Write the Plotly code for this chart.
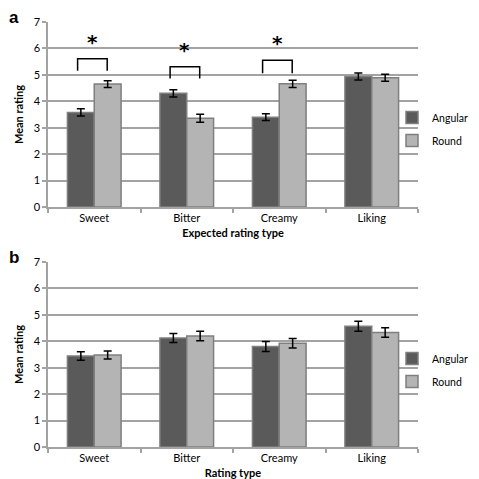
import plotly.graph_objects as go
from plotly.subplots import make_subplots

categories = ["Sweet", "Bitter", "Creamy", "Liking"]
series_names = ["Angular", "Round"]

# Panel a: expected ratings
a_angular = [3.58, 4.30, 3.40, 4.94]
a_round = [4.65, 3.36, 4.66, 4.89]
a_angular_err = [0.14, 0.14, 0.13, 0.13]
a_round_err = [0.13, 0.15, 0.14, 0.13]

# Panel b: actual ratings
b_angular = [3.44, 4.12, 3.80, 4.57]
b_round = [3.48, 4.20, 3.93, 4.33]
b_angular_err = [0.16, 0.17, 0.19, 0.19]
b_round_err = [0.15, 0.18, 0.18, 0.18]

# Significance brackets (panel a): category index, bracket top, leg bottom, star height
sig_index = [0, 1, 2]
sig_top = [5.61, 5.31, 5.55]
sig_leg = [5.16, 4.86, 5.06]
sig_star = [6.25, 5.95, 6.22]

y_ticks = [0, 1, 2, 3, 4, 5, 6, 7]

DARK = "#5a5a5a"
LIGHT = "#b4b4b4"
EDGE = "#7f7f7f"
GRID = "#a3a3a3"
FONT = "Lato"

fig = make_subplots(rows=2, cols=1)

def add_panel(row, ang, rnd, ang_err, rnd_err, legend):
    for name, vals, errs, col in [(series_names[0], ang, ang_err, DARK), (series_names[1], rnd, rnd_err, LIGHT)]:
        fig.add_trace(go.Bar(
            x=categories, y=vals, name=name, legend=legend, legendgroup=name + legend,
            marker=dict(color=col, line=dict(color=EDGE, width=1.5)),
            error_y=dict(type="data", array=errs, color="black", thickness=1.5, width=4),
        ), row=row, col=1)

add_panel(1, a_angular, a_round, a_angular_err, a_round_err, "legend")
add_panel(2, b_angular, b_round, b_angular_err, b_round_err, "legend2")

xdom = [40 / 479, 410 / 479]
doms = [[1 - 199 / 479, 1 - 14 / 479], [1 - 439 / 479, 1 - 254 / 479]]
titles = ["Expected rating type", "Rating type"]

for i, (xa, ya) in enumerate([("xaxis", "yaxis"), ("xaxis2", "yaxis2")]):
    fig.layout[xa].update(
        domain=xdom, type="category", tickson="boundaries", ticks="outside", ticklen=4,
        tickcolor=GRID, tickwidth=1.5, showline=True, linecolor=GRID, linewidth=1.5,
        showgrid=False, automargin=False, tickfont=dict(family=FONT, size=11, color="black"),
        title=dict(text="<b>" + titles[i] + "</b>", font=dict(family=FONT, size=11, color="black"), standoff=6),
    )
    fig.layout[ya].update(
        domain=doms[i], range=[0, 7], tickvals=y_ticks, ticks="outside", ticklen=4,
        tickcolor=GRID, tickwidth=1.5, showline=True, linecolor=GRID, linewidth=1.5,
        showgrid=True, gridcolor=GRID, gridwidth=1.5, zeroline=False, automargin=False,
        tickfont=dict(family=FONT, size=11, color="black"),
        title=dict(text="<b>Mean rating</b>", font=dict(family=FONT, size=11, color="black"), standoff=8),
    )

for idx, top, leg, star in zip(sig_index, sig_top, sig_leg, sig_star):
    x0 = idx - 0.18
    x1 = idx + 0.14
    fig.add_shape(type="path", xref="x", yref="y",
                  path=f"M {x0},{leg} L {x0},{top} L {x1},{top} L {x1},{leg}",
                  line=dict(color="black", width=1.5))
    fig.add_annotation(x=(x0 + x1) / 2, y=star, xref="x", yref="y", text="<b>*</b>",
                       showarrow=False, font=dict(family="DejaVu Sans", size=20, color="black"))

fig.add_annotation(x=0, y=1, xref="paper", yref="paper", xanchor="left", yanchor="top",
                   text="<b>a</b>", showarrow=False, font=dict(family="Liberation Sans", size=17, color="black"),
                   xshift=-1, yshift=2)
fig.add_annotation(x=0, y=1 - 240 / 479, xref="paper", yref="paper", xanchor="left", yanchor="top",
                   text="<b>b</b>", showarrow=False, font=dict(family="Liberation Sans", size=17, color="black"),
                   xshift=-1, yshift=2)

leg_common = dict(font=dict(family=FONT, size=10.5, color="black"), bgcolor="rgba(0,0,0,0)",
                  xanchor="left", yanchor="middle", tracegroupgap=4, itemwidth=30, borderwidth=0)
fig.update_layout(
    width=479, height=479, margin=dict(l=0, r=0, t=0, b=0, autoexpand=False),
    paper_bgcolor="white", plot_bgcolor="white",
    barmode="group", bargap=0.42, bargroupgap=0,
    legend=dict(x=384 / 479, y=1 - 121 / 479, **leg_common),
    legend2=dict(x=384 / 479, y=1 - 362 / 479, **leg_common),
)

fig.write_html("out.html")
